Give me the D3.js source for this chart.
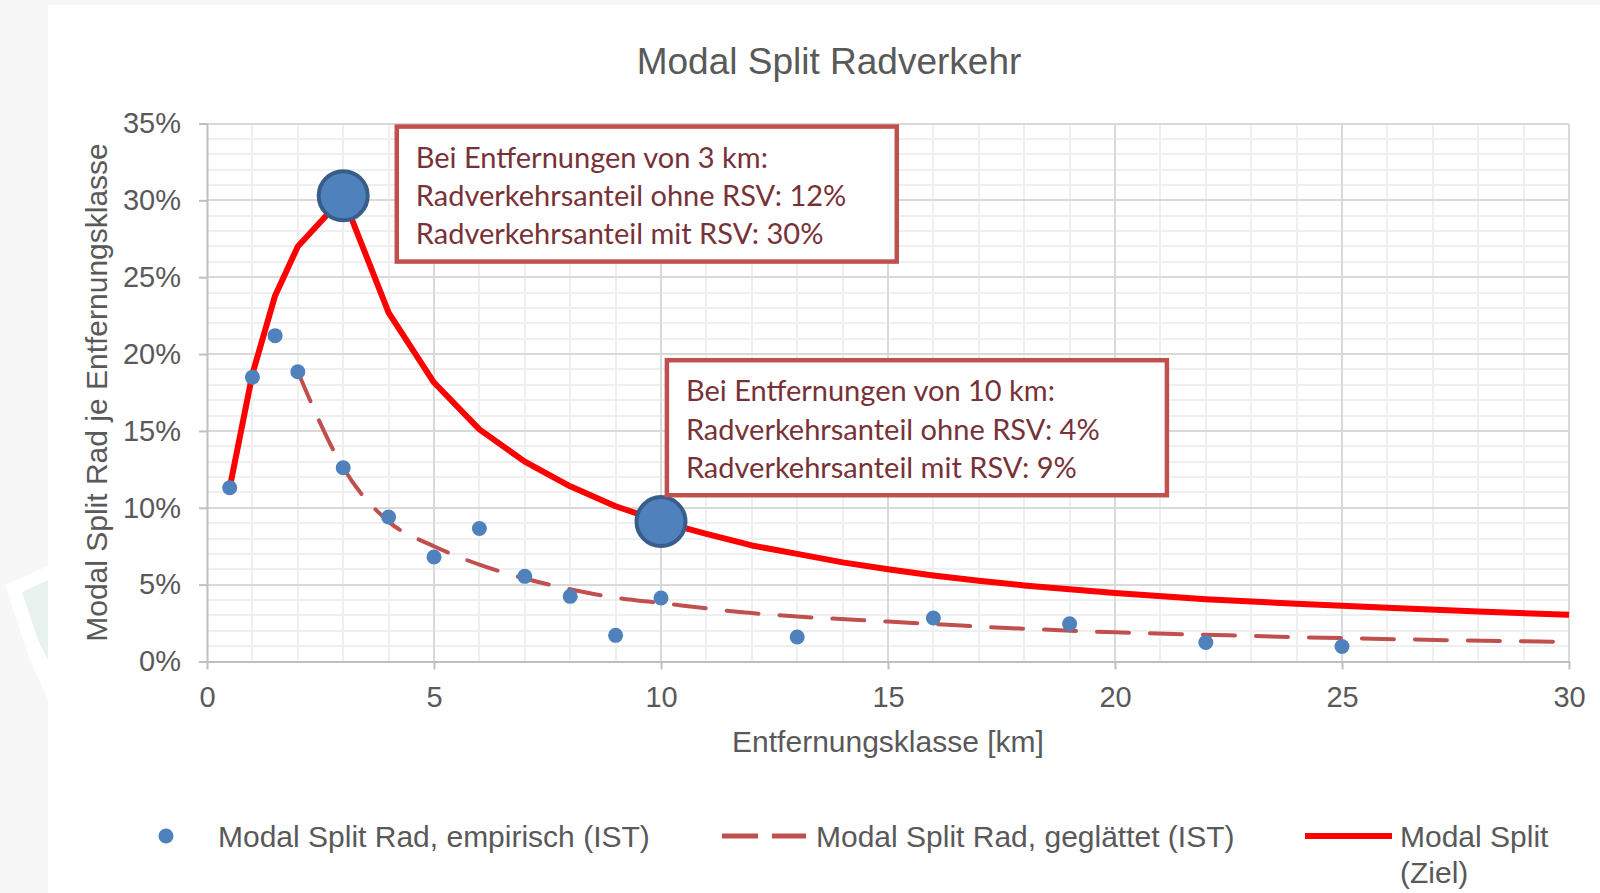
<!DOCTYPE html>
<meta charset="utf-8">
<style>
  body { margin: 0; background: #f7f7f7; }
  svg { display: block; font-family: "Liberation Sans", Arial, sans-serif; }
  .grid line { shape-rendering: crispEdges; }
  .axis path, .axis line { stroke: #bfbfbf; stroke-width: 2px; }
  .axis text { fill: #595959; font-size: 29px; }
  .note text { fill: #773238; font-family: Lato, "Noto Sans", sans-serif; font-size: 29px; }
</style>
<svg width="1600" height="893"></svg>
<script src="https://cdn.jsdelivr.net/npm/d3@7"></script>
<script>

  // empirical modal split (IST), km / percent
  var empKm = [0.5, 1, 1.5, 2, 3, 4, 5, 6, 7, 8, 9, 10, 13, 16, 19, 22, 25];
  var empShare = [11.3, 18.5, 21.2, 18.85, 12.6, 9.4, 6.8, 8.65, 5.54, 4.24, 1.7, 4.13, 1.59, 2.83, 2.46, 1.24, 0.98];

  // smoothed (IST)
  var smKm = [2, 3, 4, 5, 6, 7, 8, 9, 10, 12, 13, 15, 17.5, 20, 22.5, 25, 27.5, 30];
  var smShare = [18.85, 12.6, 9.1, 7.5, 6.3, 5.4, 4.7, 4.15, 3.8, 3.15, 2.93, 2.6, 2.2, 1.9, 1.7, 1.52, 1.38, 1.27];

  // target (Ziel)
  var ziKm = [0.5, 1, 1.5, 2, 3, 4, 5, 6, 7, 8, 9, 10, 11, 12, 13, 14, 15, 16, 17, 18, 19, 20, 22, 24, 26, 28, 30];
  var ziShare = [11.3, 18.7, 23.8, 27.0, 30.2, 22.7, 18.15, 15.1, 13.0, 11.4, 10.1, 9.1, 8.3, 7.55, 7.0, 6.45, 6.0, 5.6, 5.25, 4.95, 4.7, 4.46, 4.05, 3.75, 3.5, 3.25, 3.04];

  // highlighted points
  var hiKm = [3, 10];
  var hiShare = [30.3, 9.1];

  var xTicks = [0, 5, 10, 15, 20, 25, 30];
  var yTicks = [0, 5, 10, 15, 20, 25, 30, 35];

  var notes = [
    { km: 4.18, share: 34.8, lines: ["Bei Entfernungen von 3 km:", "Radverkehrsanteil ohne RSV: 12%", "Radverkehrsanteil mit RSV: 30%"] },
    { km: 10.13, share: 19.6, lines: ["Bei Entfernungen von 10 km:", "Radverkehrsanteil ohne RSV: 4%", "Radverkehrsanteil mit RSV: 9%"] }
  ];

  var legendItems = ["Modal Split Rad, empirisch (IST)", "Modal Split Rad, geglättet (IST)", "Modal Split", "(Ziel)"];

  var svg = d3.select("svg");

  // slide background
  svg.append("polygon").attr("points", "5,585 48,566 48,700 30,660").attr("fill", "#ffffff");
  svg.append("polygon").attr("points", "22,592 48,580 48,660 38,640").attr("fill", "#e8f2ee");
  svg.append("rect").attr("x", 48).attr("y", 5).attr("width", 1552).attr("height", 888).attr("fill", "#fff");

  var xScale = d3.scaleLinear().domain([0, 30]).range([207, 1569]);
  var yScale = d3.scaleLinear().domain([0, 35]).range([661.5, 123.5]);

  // gridlines, minor then major
  var grid = svg.append("g").attr("class", "grid");
  grid.selectAll(".vminor").data(d3.range(1, 31)).enter().append("line")
    .attr("x1", function (d) { return xScale(d); }).attr("x2", function (d) { return xScale(d); })
    .attr("y1", yScale(0)).attr("y2", yScale(35))
    .attr("stroke", "#efefef").attr("stroke-width", 2);
  grid.selectAll(".hminor").data(d3.range(1, 36)).enter().append("line")
    .attr("x1", xScale(0)).attr("x2", xScale(30))
    .attr("y1", function (d) { return yScale(d); }).attr("y2", function (d) { return yScale(d); })
    .attr("stroke", "#efefef").attr("stroke-width", 2);
  grid.selectAll(".vmajor").data(xTicks.slice(1)).enter().append("line")
    .attr("x1", function (d) { return xScale(d); }).attr("x2", function (d) { return xScale(d); })
    .attr("y1", yScale(0)).attr("y2", yScale(35))
    .attr("stroke", "#d9d9d9").attr("stroke-width", 2);
  grid.selectAll(".hmajor").data(yTicks.slice(1)).enter().append("line")
    .attr("x1", xScale(0)).attr("x2", xScale(30))
    .attr("y1", function (d) { return yScale(d); }).attr("y2", function (d) { return yScale(d); })
    .attr("stroke", "#d9d9d9").attr("stroke-width", 2);

  // axes
  svg.append("g")
    .attr("class", "axis axis--x")
    .attr("transform", "translate(0," + yScale(0) + ")")
    .call(d3.axisBottom(xScale).tickValues(xTicks).tickSize(8).tickPadding(17).tickSizeOuter(0))
    .selectAll("text").attr("dy", "0.71em");

  svg.append("g")
    .attr("class", "axis axis--y")
    .attr("transform", "translate(" + xScale(0) + ",0)")
    .call(d3.axisLeft(yScale).tickValues(yTicks).tickSize(8).tickPadding(18).tickSizeOuter(0)
      .tickFormat(function (d) { return d + "%"; }));

  // titles
  svg.append("text").attr("x", 829).attr("y", 74).attr("text-anchor", "middle")
    .attr("fill", "#595959").style("font-size", "37px").text("Modal Split Radverkehr");
  svg.append("text").attr("x", xScale(15)).attr("y", 752).attr("text-anchor", "middle")
    .attr("fill", "#595959").style("font-size", "30px").text("Entfernungsklasse [km]");
  svg.append("text").attr("transform", "translate(107," + ((yScale(0) + yScale(35)) / 2) + ") rotate(-90)")
    .attr("text-anchor", "middle").attr("fill", "#595959").style("font-size", "30px")
    .text("Modal Split Rad je Entfernungsklasse");

  var line = d3.line()
    .x(function (d) { return xScale(d[0]); })
    .y(function (d) { return yScale(d[1]); });

  // smoothed dashed line
  svg.append("path")
    .datum(d3.zip(smKm, smShare))
    .attr("d", line.curve(d3.curveMonotoneX))
    .attr("fill", "none").attr("stroke", "#c0504d").attr("stroke-width", 4)
    .attr("stroke-dasharray", "32,21").attr("stroke-linecap", "round");

  // target line
  svg.append("path")
    .datum(d3.zip(ziKm, ziShare))
    .attr("d", line.curve(d3.curveLinear))
    .attr("fill", "none").attr("stroke", "#ff0000").attr("stroke-width", 6)
    .attr("stroke-linejoin", "round");

  // empirical points
  svg.selectAll(".emp").data(d3.zip(empKm, empShare)).enter().append("circle")
    .attr("cx", function (d) { return xScale(d[0]); })
    .attr("cy", function (d) { return yScale(d[1]); })
    .attr("r", 7.5).attr("fill", "#4f81bd");

  // highlighted points
  svg.selectAll(".hi").data(d3.zip(hiKm, hiShare)).enter().append("circle")
    .attr("cx", function (d) { return xScale(d[0]); })
    .attr("cy", function (d) { return yScale(d[1]); })
    .attr("r", 24.5).attr("fill", "#4f81bd").attr("stroke", "#385d8a").attr("stroke-width", 4);

  // annotation boxes
  var note = svg.selectAll(".note").data(notes).enter().append("g")
    .attr("class", "note")
    .attr("transform", function (d) { return "translate(" + xScale(d.km) + "," + yScale(d.share) + ")"; });
  note.append("rect").attr("width", 500).attr("height", 135)
    .attr("fill", "#fff").attr("stroke", "#c0504d").attr("stroke-width", 4.5);
  note.selectAll("text").data(function (d) { return d.lines; }).enter().append("text")
    .attr("x", 19).attr("y", function (d, i) { return 41 + i * 38.3; })
    .text(function (d) { return d; });

  // legend
  var lg = svg.append("g").style("font-size", "30px").attr("fill", "#595959");
  lg.append("circle").attr("cx", 166).attr("cy", 836).attr("r", 7.5).attr("fill", "#4f81bd");
  lg.append("text").attr("x", 218).attr("y", 847).text(legendItems[0]);
  lg.append("line").attr("x1", 722).attr("x2", 806).attr("y1", 836).attr("y2", 836)
    .attr("stroke", "#c0504d").attr("stroke-width", 5).attr("stroke-dasharray", "36,14");
  lg.append("text").attr("x", 816).attr("y", 847).text(legendItems[1]);
  lg.append("line").attr("x1", 1305).attr("x2", 1392).attr("y1", 836).attr("y2", 836)
    .attr("stroke", "#ff0000").attr("stroke-width", 6);
  lg.append("text").attr("x", 1400).attr("y", 847).text(legendItems[2]);
  lg.append("text").attr("x", 1400).attr("y", 883).text(legendItems[3]);

</script>
